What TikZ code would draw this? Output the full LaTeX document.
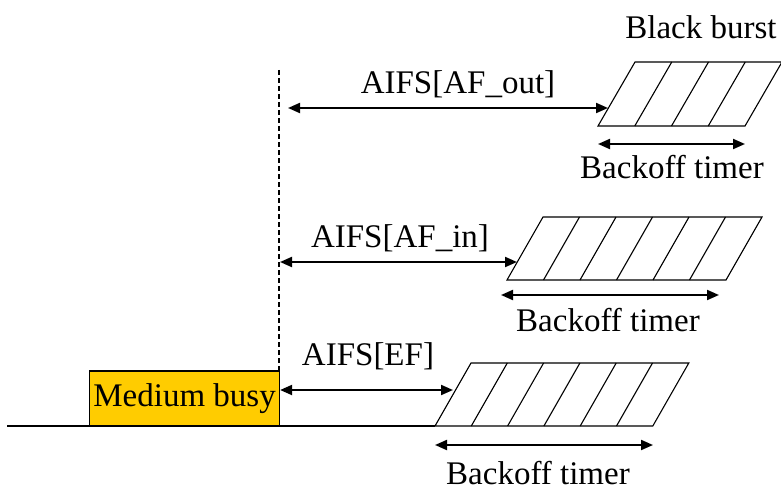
\documentclass[tikz,border=0pt]{standalone}
\usepackage{fontspec}
\setmainfont{Liberation Serif}
\usetikzlibrary{arrows.meta}
\definecolor{busyfill}{RGB}{255,204,0}
\begin{document}
\begin{tikzpicture}[x=1pt,y=-1pt,
  lbl/.style={font=\fontsize{33}{38}\selectfont, inner sep=0pt},
  outline/.style={line width=1.1pt, line join=miter},
  dimarrow/.style={line width=2pt, {Triangle[length=12pt,width=10pt]}-{Triangle[length=12pt,width=10pt]}},
  gap/.style={line width=1.5pt, dash pattern=on 5pt off 3pt}]
\useasboundingbox (0,0) rectangle (781,492);

% time axis
\coordinate (axisL) at (7,426);
\coordinate (axisR) at (435,426);
\draw[outline] (axisL) -- (axisR);

% busy medium
\node[lbl, draw, line width=1.1pt, fill=busyfill, minimum width=190pt, minimum height=55pt,
      anchor=south west] (busy) at (89,426.5) {Medium busy};

% end of busy period
\coordinate (gapTop) at (279,70);
\draw[gap] (gapTop) -- (gapTop |- busy.north);

% contention slots: (bottom-left x, bottom y, top y, skew, cell width, cells)
\newcommand\slotrow[6]{%
  \draw[outline] (#1,#2) -- ({#1+#5*#6},#2) -- ({#1+#5*#6+#4},#3) -- ({#1+#4},#3) -- cycle;
  \foreach \k in {1,...,\numexpr#6-1\relax}
    \draw[outline] ({#1+#5*\k},#2) -- ({#1+#5*\k+#4},#3);
}
\slotrow{598}{126}{62}{37}{36.75}{4}
\slotrow{507}{280}{217}{36}{36.5}{6}
\slotrow{435}{426}{363}{36}{36.3}{6}

% AIFS spans
\coordinate (outL) at (288,108);  \coordinate (outR) at (608,108);
\coordinate (inL)  at (280,262);  \coordinate (inR)  at (517,262);
\coordinate (efL)  at (busy.east |- 0,390); \coordinate (efR) at (453,390);
\draw[dimarrow] (outL) -- (outR);
\draw[dimarrow] (inL) -- (inR);
\draw[dimarrow] (efL) -- (efR);

% backoff spans
\coordinate (boTopL) at (598,144); \coordinate (boTopR) at (745,144);
\coordinate (boMidL) at (501,295); \coordinate (boMidR) at (719,295);
\coordinate (boBotL) at (435,445); \coordinate (boBotR) at (653,445);
\draw[dimarrow] (boTopL) -- (boTopR);
\draw[dimarrow] (boMidL) -- (boMidR);
\draw[dimarrow] (boBotL) -- (boBotR);

% labels
\node[lbl] (bb)    at (701,27)  {Black burst};
\node[lbl] (aout)  at (458,84)  {AIFS[AF\_out]};
\node[lbl] (ain)   at (400,238) {AIFS[AF\_in]};
\node[lbl] (aef)   at (368,356) {AIFS[EF]};
\node[lbl] (boTop) at (672,167) {Backoff timer};
\node[lbl] (boMid) at (608,320) {Backoff timer};
\node[lbl] (boBot) at (538,473) {Backoff timer};
\end{tikzpicture}
\end{document}
